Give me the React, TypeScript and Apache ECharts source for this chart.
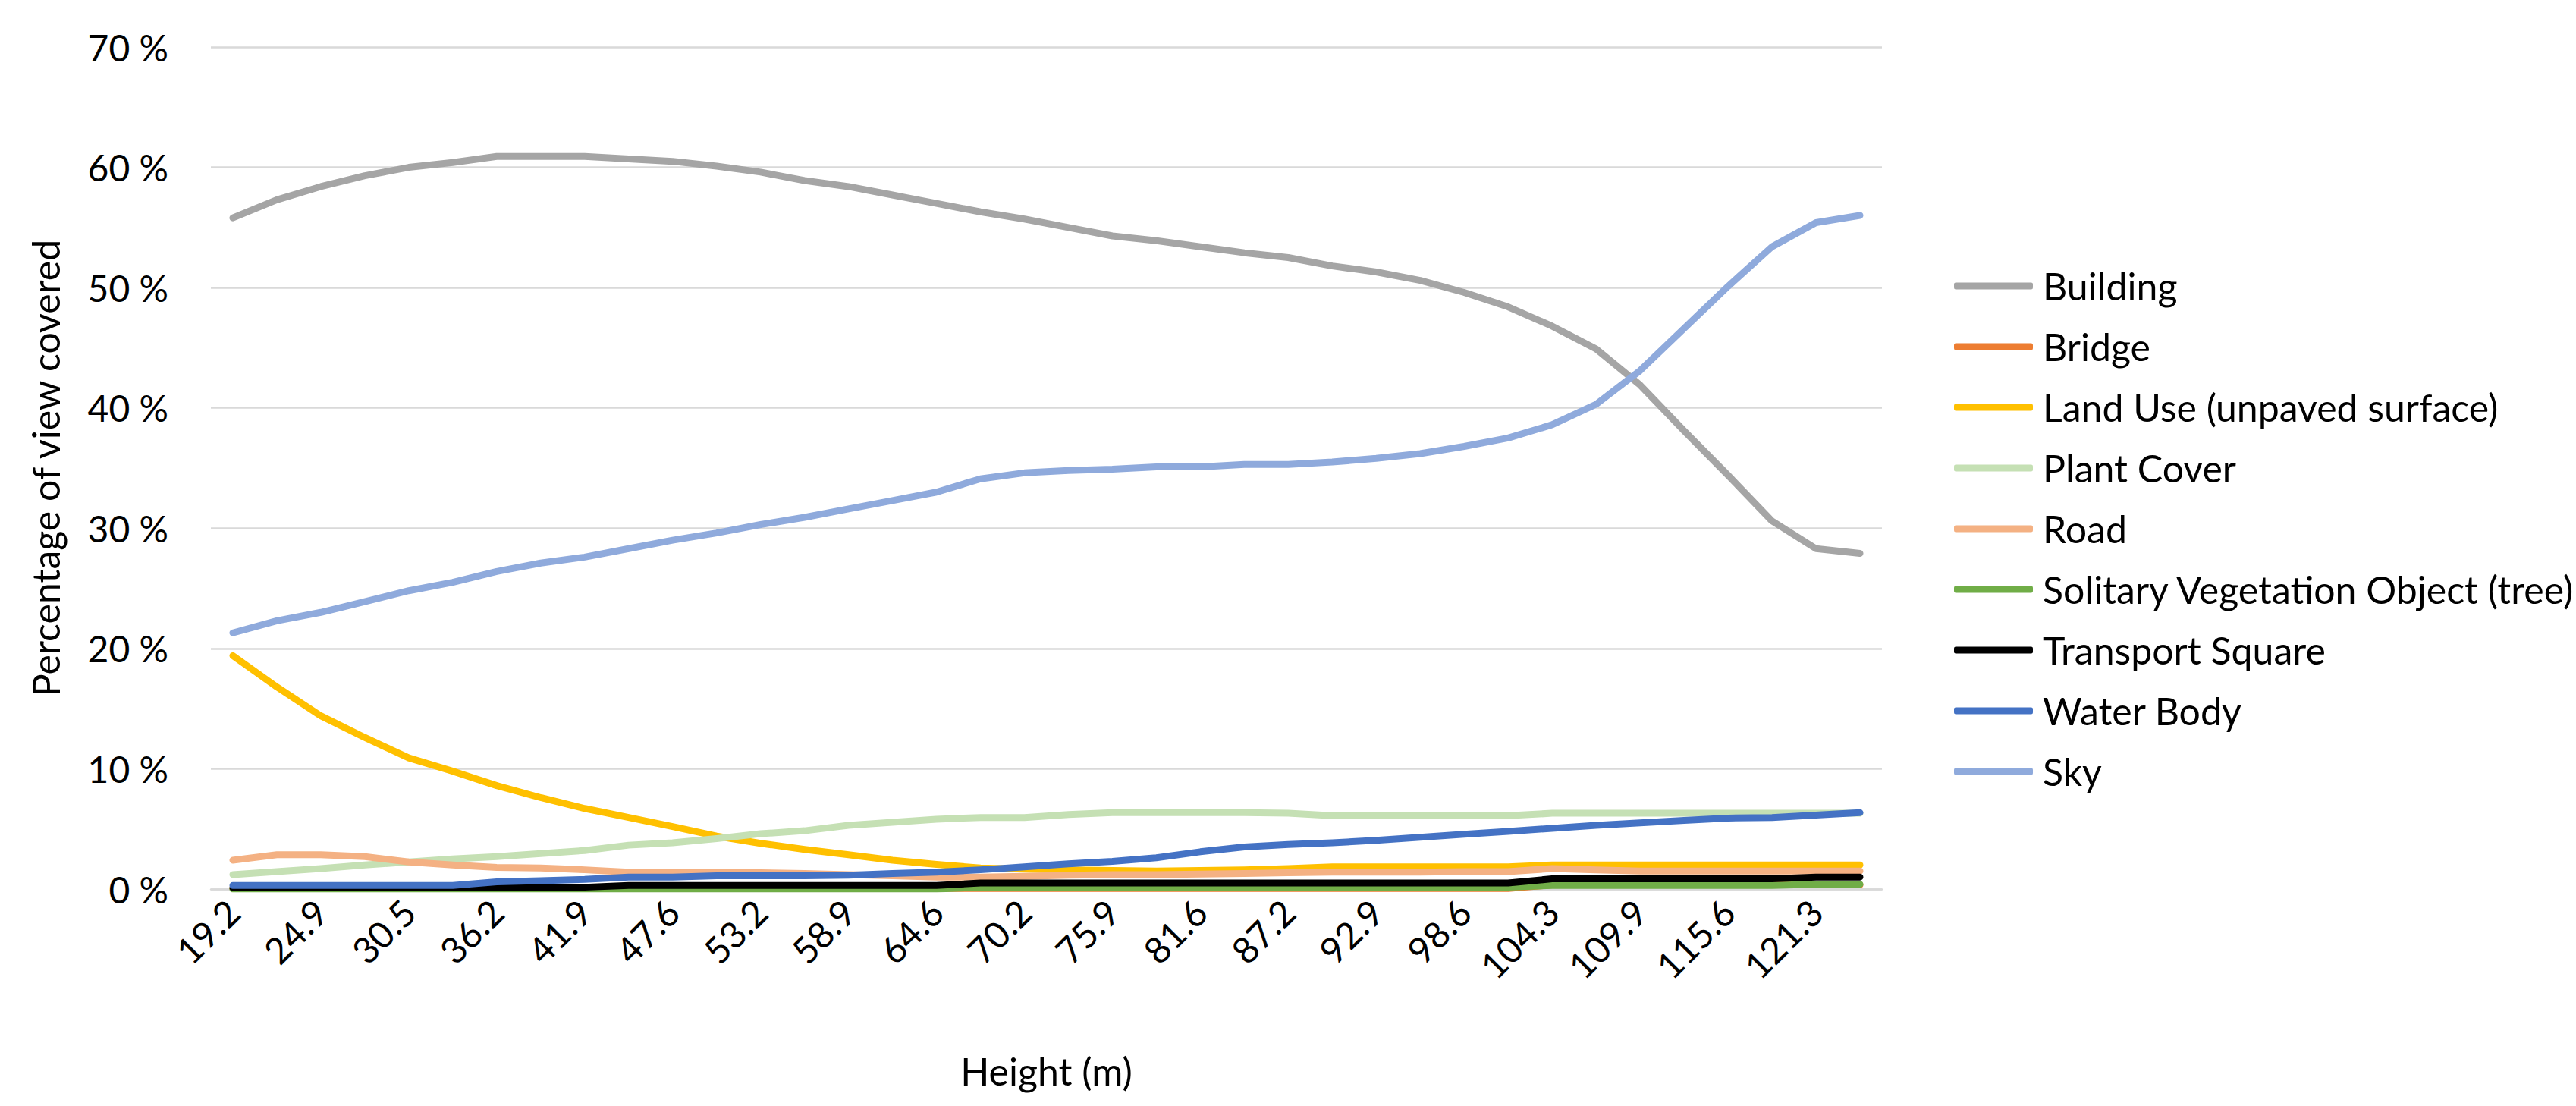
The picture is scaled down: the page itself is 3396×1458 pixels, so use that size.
import React, { useEffect, useRef } from "react";
import * as echarts from "echarts";

const heights = ["19.2","22.0","24.9","27.7","30.5","33.4","36.2","39.0","41.9","44.7","47.6","50.4","53.2","56.1","58.9","61.7","64.6","67.4","70.2","73.1","75.9","78.7","81.6","84.4","87.2","90.1","92.9","95.7","98.6","101.4","104.3","107.1","109.9","112.8","115.6","118.4","121.3","124.1"];

const building = [55.8,57.3,58.4,59.3,60.0,60.4,60.9,60.9,60.9,60.7,60.5,60.1,59.6,58.9,58.4,57.7,57.0,56.3,55.7,55.0,54.3,53.9,53.4,52.9,52.5,51.8,51.3,50.6,49.6,48.4,46.8,44.9,41.9,38.1,34.4,30.6,28.3,27.9];
const bridge = [0.05,0.05,0.05,0.05,0.05,0.05,0.05,0.05,0.05,0.05,0.05,0.05,0.05,0.05,0.05,0.05,0.05,0.05,0.05,0.05,0.05,0.05,0.05,0.05,0.05,0.05,0.05,0.05,0.05,0.05,0.35,0.35,0.35,0.35,0.35,0.35,0.35,0.35];
const landUse = [19.4,16.8,14.4,12.6,10.9,9.8,8.6,7.6,6.7,5.95,5.2,4.4,3.8,3.3,2.85,2.4,2.05,1.75,1.65,1.6,1.55,1.5,1.55,1.6,1.7,1.85,1.85,1.85,1.85,1.85,2.0,2.0,2.0,2.0,2.0,2.0,2.0,2.0];
const plantCover = [1.2,1.45,1.7,2.0,2.25,2.5,2.7,2.95,3.2,3.65,3.85,4.2,4.6,4.85,5.3,5.55,5.8,5.95,5.95,6.2,6.35,6.35,6.35,6.35,6.3,6.1,6.1,6.1,6.1,6.1,6.3,6.3,6.3,6.3,6.3,6.3,6.3,6.3];
const road = [2.4,2.85,2.85,2.7,2.25,2.0,1.8,1.75,1.6,1.4,1.35,1.35,1.35,1.3,1.2,1.1,1.0,1.0,1.05,1.15,1.2,1.2,1.25,1.3,1.35,1.4,1.4,1.4,1.45,1.45,1.7,1.6,1.5,1.5,1.5,1.5,1.5,1.5];
const solitaryTree = [0,0,0,0,0,0,0,0,0,0,0,0,0,0,0,0,0,0.15,0.15,0.15,0.15,0.15,0.15,0.15,0.15,0.15,0.15,0.15,0.15,0.15,0.3,0.3,0.3,0.3,0.3,0.3,0.4,0.4];
const transportSquare = [0.1,0.1,0.1,0.1,0.1,0.15,0.15,0.15,0.15,0.3,0.3,0.3,0.3,0.3,0.3,0.3,0.3,0.5,0.5,0.5,0.5,0.5,0.5,0.5,0.5,0.5,0.5,0.5,0.5,0.5,0.85,0.85,0.85,0.85,0.85,0.85,1.0,1.0];
const waterBody = [0.3,0.3,0.3,0.3,0.3,0.3,0.6,0.7,0.8,1.0,1.0,1.1,1.1,1.1,1.15,1.3,1.4,1.6,1.85,2.1,2.3,2.6,3.1,3.5,3.7,3.85,4.05,4.3,4.55,4.8,5.05,5.3,5.5,5.7,5.9,5.95,6.15,6.35];
const sky = [21.3,22.3,23.0,23.9,24.8,25.5,26.4,27.1,27.6,28.3,29.0,29.6,30.3,30.9,31.6,32.3,33.0,34.1,34.6,34.8,34.9,35.1,35.1,35.3,35.3,35.5,35.8,36.2,36.8,37.5,38.6,40.3,43.1,46.6,50.1,53.4,55.4,56.0];

const seriesNames = ["Building","Bridge","Land Use (unpaved surface)","Plant Cover","Road","Solitary Vegetation Object (tree)","Transport Square","Water Body","Sky"];
const seriesData = [building, bridge, landUse, plantCover, road, solitaryTree, transportSquare, waterBody, sky];
const seriesColors = ["#A5A5A5","#ED7D31","#FFC000","#C5E0B4","#F4B183","#70AD47","#000000","#4472C4","#8FAADC"];

const FONT = "Lato, 'Open Sans', sans-serif";

export default function App() {
  const ref = useRef<HTMLDivElement>(null);
  useEffect(() => {
    if (!ref.current) return;
    const chart = echarts.init(ref.current, null, { renderer: "svg" });
    chart.setOption({
      animation: false,
      backgroundColor: "#ffffff",
      textStyle: { fontFamily: FONT, color: "#000" },
      grid: { left: 278, right: 915, top: 62, bottom: 286, containLabel: false },
      legend: {
        orient: "vertical",
        left: 2571,
        top: 347,
        itemWidth: 104,
        itemHeight: 9,
        itemGap: 30,
        icon: "roundRect",
        textStyle: { fontSize: 50, color: "#000", fontFamily: FONT, padding: [0, 0, 0, 8] },
        data: seriesNames,
      },
      xAxis: {
        type: "category",
        data: heights,
        boundaryGap: true,
        name: "Height (m)",
        nameLocation: "middle",
        nameGap: 215,
        nameTextStyle: { fontSize: 50, color: "#000", fontFamily: FONT },
        axisLine: { show: true, lineStyle: { color: "#d9d9d9", width: 2.5 } },
        axisTick: { show: false },
        axisLabel: { interval: 1, rotate: 45, fontSize: 48, color: "#000", margin: 22, fontFamily: FONT },
        splitLine: { show: false },
      },
      yAxis: {
        type: "value",
        min: 0,
        max: 70,
        interval: 10,
        name: "Percentage of view covered",
        nameLocation: "middle",
        nameGap: 193,
        nameTextStyle: { fontSize: 50, color: "#000", fontFamily: FONT },
        axisLine: { show: false },
        axisTick: { show: false },
        axisLabel: { formatter: "{value} %", fontSize: 48, color: "#000", margin: 56, fontFamily: FONT },
        splitLine: { show: true, lineStyle: { color: "#d9d9d9", width: 2.5 } },
      },
      series: seriesNames.map((name, i) => ({
        name,
        type: "line",
        data: seriesData[i],
        symbol: "none",
        smooth: false,
        color: seriesColors[i],
        lineStyle: { color: seriesColors[i], width: 9, cap: "round", join: "round" },
        itemStyle: { color: seriesColors[i] },
        z: 2 + i * 0.01,
      })),
    });
    return () => chart.dispose();
  }, []);
  return (
    <div
      ref={ref}
      style={{ position: "fixed", left: 0, top: 0, width: "3396px", height: "1458px", background: "#fff" }}
    />
  );
}
